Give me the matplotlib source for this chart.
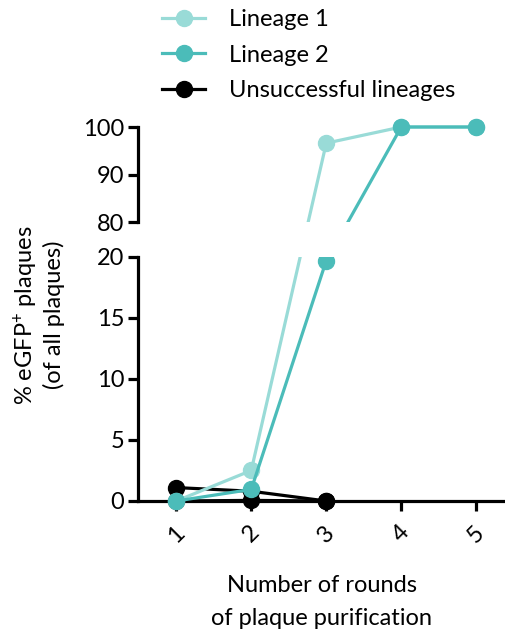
import matplotlib
matplotlib.use("Agg")
import matplotlib.pyplot as plt
import numpy as np

plt.rcParams['font.family'] = ['Lato', 'DejaVu Sans']
plt.rcParams['mathtext.default'] = 'regular'

rounds = [1, 2, 3, 4, 5]
lineage1 = [0.0, 2.5, 96.6, 100.0, 100.0]
lineage2 = [0.0, 0.95, 19.7, 100.0, 100.0]
unsucc_rounds = [1, 2, 3]
unsuccessful = [[1.1, 0.8, 0.0],
                [0.0, 0.05, 0.0]]

c1 = '#99dbd7'
c2 = '#4bbcb9'
W, H = 506, 637
fig = plt.figure(figsize=(W / 100, H / 100), dpi=100)

# broken axis: one piecewise-linear scale (pixels above the zero line)
# 0-20 -> 0-244 px, gap 20-80 -> 244-279 px, 80-100 -> 279-374 px
s_lo = 244 / 20.0
gap = 35.0
s_hi = 95 / 20.0

def fwd(v):
    v = np.asarray(v, dtype=float)
    return np.where(v <= 20, v * s_lo,
                    np.where(v <= 80, 244 + (v - 20) * gap / 60,
                             279 + (v - 80) * s_hi))

def inv(u):
    u = np.asarray(u, dtype=float)
    return np.where(u <= 244, u / s_lo,
                    np.where(u <= 279, 20 + (u - 244) * 60 / gap,
                             80 + (u - 279) / s_hi))

zero_px = 501
left_px, right_px = 138, 510

def axes_for(lo, hi):
    b = zero_px - float(fwd(lo))
    t = zero_px - float(fwd(hi))
    return fig.add_axes([left_px / W, 1 - b / H, (right_px - left_px) / W,
                         (b - t) / H])

lo_b, hi_b = -1.6, 20.3
lo_t, hi_t = 80.0, 102.0
ax_b = axes_for(lo_b, hi_b)
ax_t = axes_for(lo_t, hi_t)

lw = 2.3
ms = 11.5
fs = 17
for ax in (ax_b, ax_t):
    ax.set_yscale('function', functions=(fwd, inv))
    for k, u in enumerate(unsuccessful):
        ax.plot(unsucc_rounds, u, color='black', lw=lw, marker='o', ms=ms,
                label='Unsuccessful lineages' if k == 0 else None, zorder=2)
    ax.plot(rounds, lineage1, color=c1, lw=lw, marker='o', ms=ms,
            label='Lineage 1', zorder=3)
    ax.plot(rounds, lineage2, color=c2, lw=lw, marker='o', ms=ms,
            label='Lineage 2', zorder=4)
    ax.set_xlim(0.49, 5.45)
    ax.spines['top'].set_visible(False)
    ax.spines['right'].set_visible(False)
    ax.spines['left'].set_linewidth(2.3)
    ax.tick_params(axis='both', width=2.3, length=7, labelsize=fs,
                   direction='out', pad=3)
    ax.patch.set_alpha(0)

ax_b.set_ylim(lo_b, hi_b)
ax_b.set_yticks([0, 5, 10, 15, 20])
ax_b.set_yticklabels(['0', '5', '10', '15', '20'])
ax_b.yaxis.set_minor_locator(matplotlib.ticker.NullLocator())
ax_b.spines['left'].set_bounds(0, 20)
ax_b.spines['bottom'].set_position(('data', 0))
ax_b.spines['bottom'].set_linewidth(2.3)
ax_b.set_xticks(rounds)
ax_b.set_xticklabels([str(r) for r in rounds], rotation=45, ha='center',
                     va='top')
ax_b.tick_params(axis='x', pad=8)

ax_t.set_ylim(lo_t, hi_t)
ax_t.set_yticks([80, 90, 100])
ax_t.set_yticklabels(['80', '90', '100'])
ax_t.yaxis.set_minor_locator(matplotlib.ticker.NullLocator())
ax_t.spines['left'].set_bounds(80, 100)
ax_t.spines['bottom'].set_visible(False)
ax_t.set_xticks([])

handles, labels = ax_b.get_legend_handles_labels()
order = [labels.index('Lineage 1'), labels.index('Lineage 2'),
         labels.index('Unsuccessful lineages')]
fig.legend([handles[i] for i in order], [labels[i] for i in order],
           loc='upper left', bbox_to_anchor=(153 / W, 1.0),
           frameon=False, fontsize=fs, handlelength=1.8,
           handletextpad=1.0, labelspacing=0.6, borderaxespad=0)

fig.text(38 / W, 1 - 315 / H, '% eGFP$^{+}$ plaques\n(of all plaques)',
         rotation=90, ha='center', va='center', fontsize=fs,
         linespacing=1.15)
fig.text(322 / W, 1 - 602 / H, 'Number of rounds\nof plaque purification',
         ha='center', va='center', fontsize=fs, linespacing=1.75)

fig.savefig('out.png', dpi=100)
